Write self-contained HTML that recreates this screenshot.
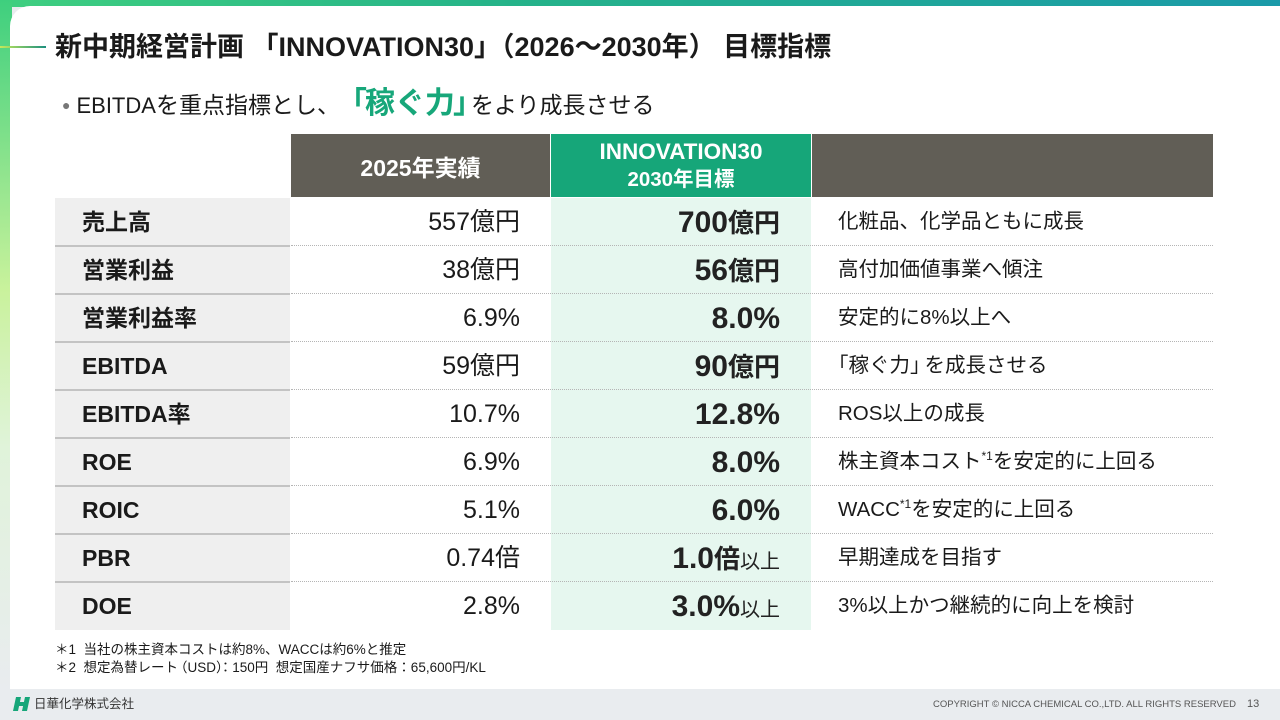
<!DOCTYPE html>
<html lang="ja">
<head>
<meta charset="utf-8">
<style>
  html,body{margin:0;padding:0;}
  body{width:1280px;height:720px;position:relative;overflow:hidden;background:#e9ecef;
    font-family:"Liberation Sans","Noto Sans CJK JP",sans-serif;color:#1a1a1a;}
  .abs{position:absolute;}
  .topbar{left:0;top:0;width:1280px;height:7px;background:linear-gradient(90deg,#3fcf80 0%,#25b389 40%,#1a9aa9 100%);}
  .leftbar{left:0;top:0;width:12px;height:689px;background:linear-gradient(180deg,#3ecf7e 0%,#7fe08a 20%,#c9f29c 42%,#e0f3da 65%,#e9ecef 100%);}
  .card{left:10px;top:6px;width:1270px;height:683px;background:#fff;border-top-left-radius:20px;}
  .footer{left:0;top:689px;width:1280px;height:31px;background:#e9ecef;}
  .tline{left:0;top:46px;width:46px;height:2px;background:linear-gradient(90deg,#c4ea5a,#1c8f7e);}
  .title{left:55px;top:30px;font-size:27px;font-weight:bold;white-space:nowrap;line-height:34px;}
  .sub{left:62px;top:86px;font-size:23px;white-space:nowrap;line-height:36px;}
  .sub .lat{font-size:22px;}
  .sub .hl{color:#17a77a;font-weight:bold;font-size:30px;}
  .sub .ob{margin-left:12px;margin-right:-2px;}
  .sub .cb{margin-right:-12px;margin-left:-2px;}
  .sub .dot{color:#777;font-size:14px;margin-right:6px;position:relative;top:-3px;}
  .hdr{top:134px;height:63px;color:#fff;font-weight:bold;display:flex;flex-direction:column;align-items:center;justify-content:center;text-align:center;}
  .lbl{left:55px;width:235px;height:48px;background:#efefef;}
  .lbl span{position:absolute;left:27px;top:0;line-height:48px;font-size:23px;font-weight:bold;}
  .v1{left:291px;width:229px;height:48px;line-height:48px;text-align:right;font-size:25px;color:#1a1a1a;}
  .v2{left:551px;width:229px;height:48px;line-height:50px;text-align:right;font-size:30px;font-weight:bold;color:#222;}
  .v2 .c{font-size:26px;}
  .v2 small{font-size:20px;font-weight:normal;}
  .v3{left:838px;width:370px;height:48px;line-height:48px;font-size:20.5px;color:#1a1a1a;white-space:nowrap;}
  .v3 sup{font-size:12px;vertical-align:top;position:relative;top:-6px;}
  .sepS{left:55px;width:235px;height:2px;background:#c3c3c3;}
  .sepD{left:291px;width:922px;height:0;border-top:1px dotted #b5b5b5;}
  .note{left:55px;font-size:13.5px;white-space:nowrap;line-height:18px;}
</style>
</head>
<body>
<div class="abs topbar"></div>
<div class="abs leftbar"></div>
<div class="abs card"></div>
<div class="abs footer"></div>

<div class="abs tline"></div>
<div class="abs title">新中期経営計画 「INNOVATION30」（2026～2030年） 目標指標</div>
<div class="abs sub"><span class="dot">●</span><span class="lat">EBITDA</span>を重点指標とし、<span class="hl"><span class="ob">「</span>稼ぐ力<span class="cb">」</span></span>をより成長させる</div>

<!-- header -->
<div class="abs hdr" style="left:291px;width:259px;background:#615e56;font-size:23px;">2025年実績</div>
<div class="abs hdr" style="left:551px;width:260px;background:#16a679;"><div style="font-size:22.5px;line-height:29px;">INNOVATION30</div><div style="font-size:20.5px;line-height:28px;">2030年目標</div></div>
<div class="abs hdr" style="left:812px;width:401px;background:#615e56;"></div>

<!-- green column bg -->
<div class="abs" style="left:551px;top:198px;width:260px;height:432px;background:#e6f7ef;"></div>

<!-- rows -->
<div class="abs lbl" style="top:198px;"><span>売上高</span></div>
<div class="abs lbl" style="top:246px;"><span>営業利益</span></div>
<div class="abs lbl" style="top:294px;"><span>営業利益率</span></div>
<div class="abs lbl" style="top:342px;"><span>EBITDA</span></div>
<div class="abs lbl" style="top:390px;"><span>EBITDA率</span></div>
<div class="abs lbl" style="top:438px;"><span>ROE</span></div>
<div class="abs lbl" style="top:486px;"><span>ROIC</span></div>
<div class="abs lbl" style="top:534px;"><span>PBR</span></div>
<div class="abs lbl" style="top:582px;"><span>DOE</span></div>

<div class="abs sepS" style="top:245px;"></div>
<div class="abs sepS" style="top:293px;"></div>
<div class="abs sepS" style="top:341px;"></div>
<div class="abs sepS" style="top:389px;"></div>
<div class="abs sepS" style="top:437px;"></div>
<div class="abs sepS" style="top:485px;"></div>
<div class="abs sepS" style="top:533px;"></div>
<div class="abs sepS" style="top:581px;"></div>

<div class="abs sepD" style="top:245px;"></div>
<div class="abs sepD" style="top:293px;"></div>
<div class="abs sepD" style="top:341px;"></div>
<div class="abs sepD" style="top:389px;"></div>
<div class="abs sepD" style="top:437px;"></div>
<div class="abs sepD" style="top:485px;"></div>
<div class="abs sepD" style="top:533px;"></div>
<div class="abs sepD" style="top:581px;"></div>

<div class="abs v1" style="top:198px;">557億円</div>
<div class="abs v1" style="top:246px;">38億円</div>
<div class="abs v1" style="top:294px;">6.9%</div>
<div class="abs v1" style="top:342px;">59億円</div>
<div class="abs v1" style="top:390px;">10.7%</div>
<div class="abs v1" style="top:438px;">6.9%</div>
<div class="abs v1" style="top:486px;">5.1%</div>
<div class="abs v1" style="top:534px;">0.74倍</div>
<div class="abs v1" style="top:582px;">2.8%</div>

<div class="abs v2" style="top:198px;">700<span class="c">億円</span></div>
<div class="abs v2" style="top:246px;">56<span class="c">億円</span></div>
<div class="abs v2" style="top:294px;">8.0%</div>
<div class="abs v2" style="top:342px;">90<span class="c">億円</span></div>
<div class="abs v2" style="top:390px;">12.8%</div>
<div class="abs v2" style="top:438px;">8.0%</div>
<div class="abs v2" style="top:486px;">6.0%</div>
<div class="abs v2" style="top:534px;">1.0<span class="c">倍</span><small>以上</small></div>
<div class="abs v2" style="top:582px;">3.0%<small>以上</small></div>

<div class="abs v3" style="top:198px;">化粧品、化学品ともに成長</div>
<div class="abs v3" style="top:246px;">高付加価値事業へ傾注</div>
<div class="abs v3" style="top:294px;">安定的に8%以上へ</div>
<div class="abs v3" style="top:342px;"><span style="margin-left:-10px;">「</span>稼ぐ力<span style="margin-right:-6px;">」</span>を成長させる</div>
<div class="abs v3" style="top:390px;">ROS以上の成長</div>
<div class="abs v3" style="top:438px;">株主資本コスト<sup>*1</sup>を安定的に上回る</div>
<div class="abs v3" style="top:486px;">WACC<sup>*1</sup>を安定的に上回る</div>
<div class="abs v3" style="top:534px;">早期達成を目指す</div>
<div class="abs v3" style="top:582px;">3%以上かつ継続的に向上を検討</div>

<div class="abs note" style="top:641px;">＊1&nbsp;&nbsp;当社の株主資本コストは約8%、WACCは約6%と推定</div>
<div class="abs note" style="top:659px;">＊2&nbsp;&nbsp;想定為替レート<span style="margin-left:-4px;">（</span>USD<span style="margin-right:-4px;">）</span>：150円&nbsp;&nbsp;想定国産ナフサ価格：65,600円/KL</div>

<!-- footer -->
<svg class="abs" style="left:13px;top:697px;" width="20" height="14" viewBox="0 0 20 14">
  <path d="M3 0 H8 L5 14 H0 Z" fill="#16a679"/>
  <path d="M12 0 H17 L14 14 H9 Z" fill="#16a679"/>
  <path d="M6 5 H13 L12 9 H5 Z" fill="#16a679"/>
</svg>
<div class="abs" style="left:34px;top:695px;font-size:12.5px;line-height:18px;color:#333;white-space:nowrap;">日華化学株式会社</div>
<div class="abs" style="left:933px;top:699px;font-size:9.5px;line-height:12px;color:#555;white-space:nowrap;">COPYRIGHT © NICCA CHEMICAL CO.,LTD. ALL RIGHTS RESERVED</div>
<div class="abs" style="left:1247px;top:697px;font-size:11px;line-height:14px;color:#555;">13</div>
</body>
</html>
